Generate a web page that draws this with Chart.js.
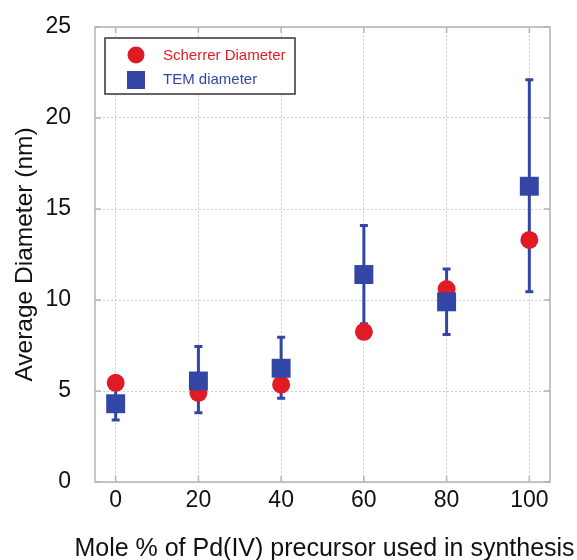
<!DOCTYPE html>
<html>
<head>
<meta charset="utf-8">
<script src="https://cdn.jsdelivr.net/npm/chart.js@4/dist/chart.umd.min.js"></script>
<style>
  html, body { margin: 0; padding: 0; background: #fff; }
  #wrap { width: 577px; height: 560px; }
</style>
</head>
<body>
<div id="wrap"><canvas id="sizeChart" width="577" height="560"></canvas></div>
<script>
// Data
const moleLabels = [0, 20, 40, 60, 80, 100];
const scherrerDiam = [5.45, 4.9, 5.35, 8.25, 10.6, 13.3];
const temDiam = [4.3, 5.55, 6.25, 11.4, 9.9, 16.25];
const temUpper = [5.25, 7.45, 7.95, 14.1, 11.7, 22.1];
const temLower = [3.4, 3.8, 4.6, 8.7, 8.1, 10.45];
const xTicks = [0, 20, 40, 60, 80, 100];
const yTicks = [0, 5, 10, 15, 20, 25];
const xTitle = 'Mole % of Pd(IV) precursor used in synthesis';

const RED = '#e01b24';
const BLUE = '#3346a6';
const FONT = "'Liberation Sans', Arial, sans-serif";

// Error bars for the TEM series, drawn under the markers
const errorBars = {
  id: 'errorBars',
  beforeDatasetsDraw(chart) {
    const ctx = chart.ctx;
    const xs = chart.scales.x, ys = chart.scales.y;
    ctx.save();
    ctx.strokeStyle = BLUE;
    ctx.lineWidth = 3;
    moleLabels.forEach((m, i) => {
      const x = xs.getPixelForValue(m);
      const yTop = ys.getPixelForValue(temUpper[i]);
      const yBot = ys.getPixelForValue(temLower[i]);
      ctx.beginPath();
      ctx.moveTo(x, yTop); ctx.lineTo(x, yBot);
      ctx.moveTo(x - 4, yTop); ctx.lineTo(x + 4, yTop);
      ctx.moveTo(x - 4, yBot); ctx.lineTo(x + 4, yBot);
      ctx.stroke();
    });
    ctx.restore();
  }
};

// Box around the plot, inward tick marks, x title and the legend box
const frameAndLegend = {
  id: 'frameAndLegend',
  afterDraw(chart) {
    const ctx = chart.ctx;
    const a = chart.chartArea;
    const xs = chart.scales.x, ys = chart.scales.y;
    ctx.save();
    ctx.strokeStyle = '#b4b4b4';
    ctx.lineWidth = 1.5;
    ctx.strokeRect(a.left, a.top, a.right - a.left, a.bottom - a.top);
    ctx.beginPath();
    xTicks.forEach(v => {
      const x = xs.getPixelForValue(v);
      ctx.moveTo(x, a.top); ctx.lineTo(x, a.top + 6);
      ctx.moveTo(x, a.bottom); ctx.lineTo(x, a.bottom - 6);
    });
    yTicks.forEach(v => {
      const y = ys.getPixelForValue(v);
      ctx.moveTo(a.left, y); ctx.lineTo(a.left + 6, y);
      ctx.moveTo(a.right, y); ctx.lineTo(a.right - 6, y);
    });
    ctx.stroke();

    // x axis title, drawn here so it is not squeezed to the plot width
    ctx.fillStyle = '#111';
    ctx.font = '25px ' + FONT;
    ctx.textAlign = 'center';
    ctx.textBaseline = 'alphabetic';
    ctx.fillText(xTitle, (a.left + a.right) / 2 + 2, 556);

    // legend
    const lx = a.left + 10, ly = a.top + 11;
    ctx.textAlign = 'left';
    ctx.fillStyle = '#fff';
    ctx.fillRect(lx, ly, 190, 56);
    ctx.strokeStyle = '#333';
    ctx.lineWidth = 1.5;
    ctx.strokeRect(lx, ly, 190, 56);
    ctx.fillStyle = RED;
    ctx.beginPath();
    ctx.arc(lx + 31, ly + 17, 8.5, 0, Math.PI * 2);
    ctx.fill();
    ctx.fillStyle = BLUE;
    ctx.fillRect(lx + 22, ly + 33, 18, 18);
    ctx.font = '15px ' + FONT;
    ctx.textBaseline = 'middle';
    ctx.fillStyle = RED;
    ctx.fillText(chart.data.datasets[0].label, lx + 58, ly + 18);
    ctx.fillStyle = BLUE;
    ctx.fillText(chart.data.datasets[1].label, lx + 58, ly + 42);
    ctx.restore();
  }
};

new Chart(document.getElementById('sizeChart'), {
  type: 'scatter',
  data: {
    datasets: [
      {
        label: 'Scherrer Diameter',
        data: moleLabels.map((m, i) => ({ x: m, y: scherrerDiam[i] })),
        backgroundColor: RED,
        borderWidth: 0,
        pointRadius: 9,
        pointStyle: 'circle',
        order: 2
      },
      {
        label: 'TEM diameter',
        data: moleLabels.map((m, i) => ({ x: m, y: temDiam[i] })),
        backgroundColor: BLUE,
        borderWidth: 0,
        pointRadius: 13.4,
        pointStyle: 'rect',
        order: 1
      }
    ]
  },
  plugins: [errorBars, frameAndLegend],
  options: {
    responsive: false,
    animation: false,
    devicePixelRatio: 1,
    layout: { padding: { top: 27, right: 27, left: 0, bottom: 0 } },
    plugins: { legend: { display: false }, tooltip: { enabled: false } },
    scales: {
      x: {
        type: 'linear',
        min: -5, max: 105,
        afterBuildTicks: s => { s.ticks = xTicks.map(v => ({ value: v })); },
        afterFit: s => { s.height = 78; s.paddingLeft = 0; s.paddingRight = 0; },
        grid: { color: '#cfcfcf', drawTicks: false },
        border: { display: false, dash: [2, 2] },
        ticks: { color: '#111', font: { family: FONT, size: 23 }, padding: 5 },
        title: { display: false }
      },
      y: {
        min: 0, max: 25,
        afterBuildTicks: s => { s.ticks = yTicks.map(v => ({ value: v })); },
        afterFit: s => { s.width = 95; s.paddingTop = 0; s.paddingBottom = 0; },
        grid: { color: '#cfcfcf', drawTicks: false },
        border: { display: false, dash: [2, 2] },
        ticks: { color: '#111', font: { family: FONT, size: 23 }, padding: 24 },
        title: {
          display: true,
          text: 'Average Diameter (nm)',
          color: '#111',
          font: { family: FONT, size: 24.5, lineHeight: 1 },
          padding: { top: 13, bottom: 0 }
        }
      }
    }
  }
});
</script>
</body>
</html>
